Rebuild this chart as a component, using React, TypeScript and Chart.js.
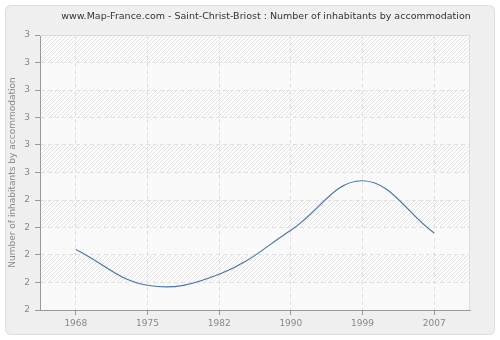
import React, { useEffect, useRef } from 'react';
import { Chart, registerables } from 'chart.js';
Chart.register(...registerables);

const years = ['1968', '1975', '1982', '1990', '1999', '2007'];
const inhabitantsPerHousing = [2.22, 2.09, 2.13, 2.29, 2.47, 2.28];
const yMin = 2;
const yMax = 3;
const yStep = 0.1;
const titleText = 'www.Map-France.com - Saint-Christ-Briost : Number of inhabitants by accommodation';
const yAxisTitle = 'Number of inhabitants by accommodation';

const FONT = "'DejaVu Sans', Verdana, sans-serif";

const decorPlugin = {
  id: 'decor',
  beforeDraw(chart: any) {
    const { ctx, chartArea, width, height } = chart;
    ctx.save();
    ctx.fillStyle = '#ffffff';
    ctx.fillRect(0, 0, width, height);
    // outer rounded panel
    const r = 6;
    const x0 = 5.5, y0 = 5.5, x1 = width - 5.5, y1 = height - 5.5;
    ctx.beginPath();
    ctx.moveTo(x0 + r, y0);
    ctx.lineTo(x1 - r, y0);
    ctx.quadraticCurveTo(x1, y0, x1, y0 + r);
    ctx.lineTo(x1, y1 - r);
    ctx.quadraticCurveTo(x1, y1, x1 - r, y1);
    ctx.lineTo(x0 + r, y1);
    ctx.quadraticCurveTo(x0, y1, x0, y1 - r);
    ctx.lineTo(x0, y0 + r);
    ctx.quadraticCurveTo(x0, y0, x0 + r, y0);
    ctx.closePath();
    ctx.fillStyle = '#efefef';
    ctx.fill();
    ctx.strokeStyle = '#dcdcdc';
    ctx.lineWidth = 1;
    ctx.stroke();

    // plot area
    const { left, right, top, bottom } = chartArea;
    ctx.beginPath();
    ctx.rect(left, top, right - left, bottom - top);
    ctx.clip();
    ctx.fillStyle = '#fcfcfc';
    ctx.fillRect(left, top, right - left, bottom - top);
    ctx.strokeStyle = '#e4e4e4';
    ctx.lineWidth = 1;
    const h = bottom - top;
    for (let x = left - h; x < right + h; x += 4) {
      ctx.beginPath();
      ctx.moveTo(x, bottom);
      ctx.lineTo(x + h, top);
      ctx.stroke();
    }
    // alternating lighter bands
    const ys = chart.scales.y;
    ctx.fillStyle = 'rgba(250,250,250,0.8)';
    for (let i = 0; i < 10; i++) {
      if (i % 2 === 0) {
        const a = ys.getPixelForValue(yMin + i * yStep);
        const b = ys.getPixelForValue(yMin + (i + 1) * yStep);
        ctx.fillRect(left, b, right - left, a - b);
      }
    }
    ctx.restore();

    // title
    ctx.save();
    ctx.fillStyle = '#333333';
    ctx.font = `9.5px ${FONT}`;
    ctx.textAlign = 'center';
    ctx.textBaseline = 'middle';
    ctx.fillText(titleText, 266, 17);
    // y axis title
    ctx.translate(13, (top + bottom) / 2);
    ctx.rotate(-Math.PI / 2);
    ctx.fillStyle = '#888888';
    ctx.font = `9px ${FONT}`;
    ctx.fillText(yAxisTitle, 0, 0);
    ctx.restore();
  },
  afterDraw(chart: any) {
    const { ctx, chartArea } = chart;
    const { left, right, top, bottom } = chartArea;
    ctx.save();
    ctx.strokeStyle = '#dddddd';
    ctx.lineWidth = 1;
    ctx.beginPath();
    ctx.moveTo(left, top + 0.5);
    ctx.lineTo(right - 0.5, top + 0.5);
    ctx.lineTo(right - 0.5, bottom);
    ctx.stroke();
    ctx.restore();
  },
};

export default function App() {
  const ref = useRef<HTMLCanvasElement>(null);
  useEffect(() => {
    if (!ref.current) return;
    const chart = new Chart(ref.current, {
      type: 'line',
      data: {
        labels: years,
        datasets: [
          {
            data: inhabitantsPerHousing,
            borderColor: '#4a75ab',
            borderWidth: 1.2,
            pointRadius: 0,
            tension: 0.4,
            fill: false,
          },
        ],
      },
      options: {
        responsive: false,
        animation: false,
        events: [],
        layout: { padding: { left: 0, right: 30, top: 35, bottom: 0 } },
        plugins: { legend: { display: false }, title: { display: false }, tooltip: { enabled: false } },
        scales: {
          x: {
            type: 'category',
            offset: true,
            afterFit: (s: any) => { s.height = 30; },
            grid: { offset: false, color: '#e0e0e0', tickColor: '#999999', tickLength: 5, drawOnChartArea: true },
            border: { color: '#999999', width: 1, dash: [4, 3] },
            ticks: { color: '#888888', font: { family: FONT, size: 9 }, padding: 3, maxRotation: 0 },
          },
          y: {
            min: yMin,
            max: yMax,
            afterFit: (s: any) => { s.width = 40; },
            grid: { color: '#e0e0e0', tickColor: '#999999', tickLength: 5 },
            border: { color: '#999999', width: 1, dash: [4, 3] },
            ticks: {
              stepSize: yStep,
              color: '#888888',
              font: { family: FONT, size: 9 },
              padding: 5,
              callback: (v: any) => String(Math.round(Number(v))),
            },
          },
        },
      },
      plugins: [decorPlugin],
    });
    return () => chart.destroy();
  }, []);
  return (
    <div style={{ position: 'fixed', left: 0, top: 0, width: 500, height: 340 }}>
      <canvas ref={ref} width={500} height={340} style={{ width: 500, height: 340 }} />
    </div>
  );
}
